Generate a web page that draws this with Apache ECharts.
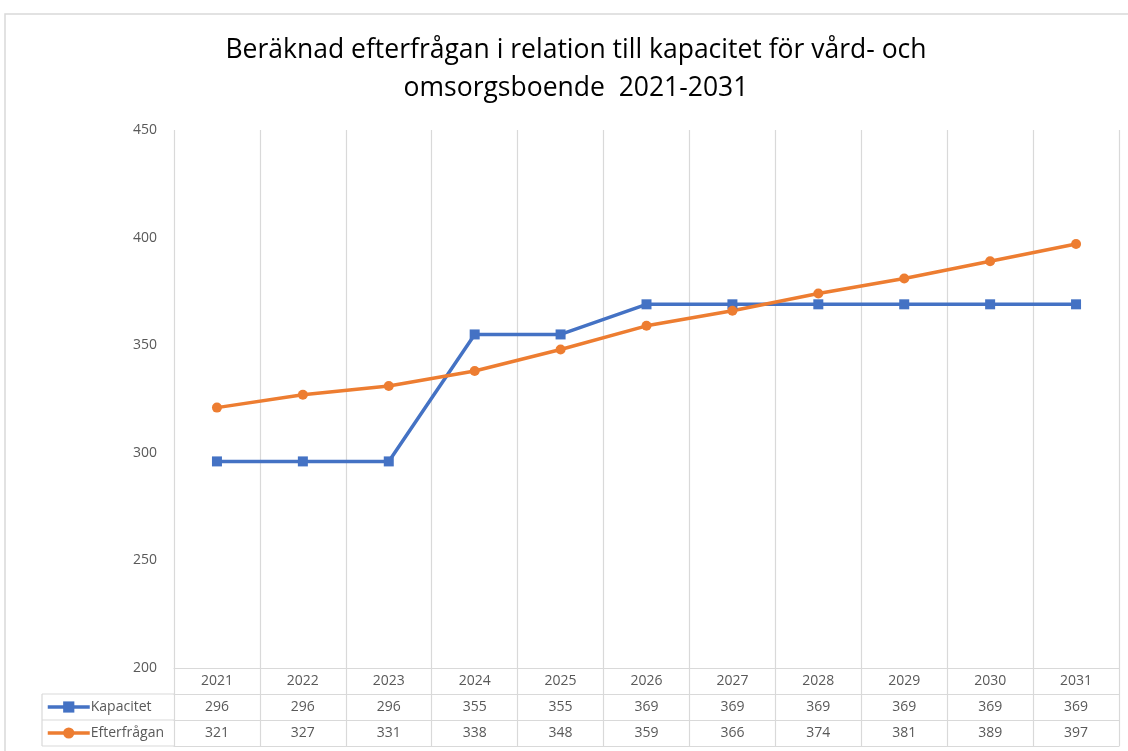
<!DOCTYPE html>
<html>
<head>
<meta charset="utf-8">
<script src="https://cdn.jsdelivr.net/npm/echarts@6/dist/echarts.min.js"></script>
<style>html,body{margin:0;padding:0;background:#fff}#c{width:1128px;height:751px}</style>
</head>
<body>
<div id="c"></div>
<script>
const titleLines = ['Beräknad efterfrågan i relation till kapacitet för vård- och', 'omsorgsboende  2021-2031'];
const years = ['2021','2022','2023','2024','2025','2026','2027','2028','2029','2030','2031'];
const kapacitet = [296,296,296,355,355,369,369,369,369,369,369];
const efterfragan = [321,327,331,338,348,359,366,374,381,389,397];
const seriesNames = ['Kapacitet','Efterfrågan'];
const yTicks = { min: 200, max: 450, interval: 50 };

const FONT = 'Open Sans';
const GREY = '#d9d9d9';
const TXT = '#595959';
const ROW = 26;
const gridLeft = 174, gridRight = 9, gridTop = 130, gridBottom = 83;

function tableAxis(data, offset, showLabel) {
  return {
    type: 'category', data: data, position: 'bottom', offset: offset, gridIndex: 0,
    boundaryGap: true,
    axisLine: { show: true, lineStyle: { color: GREY, width: 1.2 } },
    axisTick: { show: showLabel, length: ROW, lineStyle: { color: GREY, width: 1.2 } },
    axisLabel: { show: showLabel, margin: 6, color: TXT, fontSize: 14, fontFamily: FONT, interval: 0 },
    splitLine: { show: false }
  };
}

const xAxes = [
  Object.assign(tableAxis(years, 0, true), { splitLine: { show: true, lineStyle: { color: GREY, width: 1.2 } } }),
  tableAxis(kapacitet.map(String), ROW, true),
  tableAxis(efterfragan.map(String), ROW * 2, true),
  tableAxis(years, ROW * 3, false)
];

const chart = echarts.init(document.getElementById('c'));
const tableTop = 751 - gridBottom;
chart.setOption({
  backgroundColor: '#fff',
  animation: false,
  grid: { left: gridLeft, right: gridRight, top: gridTop, bottom: gridBottom, containLabel: false },
  xAxis: xAxes,
  yAxis: {
    type: 'value', min: yTicks.min, max: yTicks.max, interval: yTicks.interval,
    axisLine: { show: false }, axisTick: { show: false }, splitLine: { show: false },
    axisLabel: { color: TXT, fontSize: 14, fontFamily: FONT, margin: 17 }
  },
  legend: {
    orient: 'vertical', left: 46, top: tableTop + ROW + 6, itemGap: 12,
    itemWidth: 42, itemHeight: 14, data: seriesNames,
    lineStyle: { width: 3.5 },
    textStyle: { color: TXT, fontSize: 14, fontFamily: FONT, padding: [0,0,0,-4] },
    padding: 0
  },
  graphic: [
    { type: 'rect', shape: { x: 5, y: 14, width: 1300, height: 900 }, style: { fill: 'none', stroke: GREY, lineWidth: 1.5 }, silent: true },
    { type: 'text', x: 576, y: 50, style: { text: titleLines[0], fontSize: 26.5, fontFamily: FONT, fill: '#000', align: 'center', verticalAlign: 'middle' } },
    { type: 'text', x: 576, y: 88, style: { text: titleLines[1], fontSize: 26.5, fontFamily: FONT, fill: '#000', align: 'center', verticalAlign: 'middle' } },
    { type: 'line', shape: { x1: 42, y1: tableTop + ROW, x2: gridLeft, y2: tableTop + ROW }, style: { stroke: GREY, lineWidth: 1.2 } },
    { type: 'line', shape: { x1: 42, y1: tableTop + ROW * 2, x2: gridLeft, y2: tableTop + ROW * 2 }, style: { stroke: GREY, lineWidth: 1.2 } },
    { type: 'line', shape: { x1: 42, y1: tableTop + ROW * 3, x2: gridLeft, y2: tableTop + ROW * 3 }, style: { stroke: GREY, lineWidth: 1.2 } },
    { type: 'line', shape: { x1: 42, y1: tableTop + ROW, x2: 42, y2: tableTop + ROW * 3 }, style: { stroke: GREY, lineWidth: 1.2 } }
  ],
  series: [
    { name: seriesNames[0], type: 'line', xAxisIndex: 0, data: kapacitet, color: '#4472C4',
      symbol: 'rect', symbolSize: 10, lineStyle: { width: 3.5 }, itemStyle: { color: '#4472C4' } },
    { name: seriesNames[1], type: 'line', xAxisIndex: 0, data: efterfragan, color: '#ED7D31',
      symbol: 'circle', symbolSize: 10, lineStyle: { width: 3.5 }, itemStyle: { color: '#ED7D31' } }
  ]
});
</script>
</body>
</html>
